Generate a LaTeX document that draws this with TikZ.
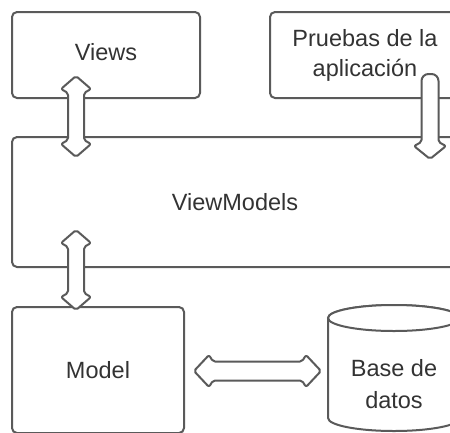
\documentclass[tikz,border=0pt]{standalone}
\usepackage{fontspec}
\setmainfont{Liberation Sans}
\usetikzlibrary{calc}

\definecolor{edge}{HTML}{5A5A5A}
\definecolor{ink}{HTML}{333333}

% vertical double block arrow between two tip coordinates
% #1 top tip, #2 bottom tip, #3 half shaft, #4 half head, #5 head length
\newcommand\vdblarrow[5]{%
  \draw[blockarrow] let \p1=(#1), \p2=(#2) in
    (\x1,\y1) -- ({\x1-#4pt},{\y1-#5pt}) -- ({\x1-#3pt},{\y1-#5pt-4pt})
    -- ({\x1-#3pt},{\y2+#5pt+4pt}) -- ({\x1-#4pt},{\y2+#5pt}) -- (\x1,\y2)
    -- ({\x1+#4pt},{\y2+#5pt}) -- ({\x1+#3pt},{\y2+#5pt+4pt})
    -- ({\x1+#3pt},{\y1-#5pt-4pt}) -- ({\x1+#4pt},{\y1-#5pt}) -- cycle;}

% horizontal double block arrow: #1 left tip, #2 right tip
\newcommand\hdblarrow[5]{%
  \draw[blockarrow] let \p1=(#1), \p2=(#2) in
    (\x1,\y1) -- ({\x1+#5pt},{\y1+#4pt}) -- ({\x1+#5pt+4pt},{\y1+#3pt})
    -- ({\x2-#5pt-4pt},{\y1+#3pt}) -- ({\x2-#5pt},{\y1+#4pt}) -- (\x2,\y1)
    -- ({\x2-#5pt},{\y1-#4pt}) -- ({\x2-#5pt-4pt},{\y1-#3pt})
    -- ({\x1+#5pt+4pt},{\y1-#3pt}) -- ({\x1+#5pt},{\y1-#4pt}) -- cycle;}

% single downward block arrow with a rounded tail: #1 tail, #2 tip
\newcommand\downarrowblock[5]{%
  \draw[blockarrow] let \p1=(#1), \p2=(#2) in
    [rounded corners=7pt] ({\x1-#3pt},{\y2+#5pt+4pt}) -- ({\x1-#3pt},\y1)
    -- ({\x1+#3pt},\y1) [rounded corners=2pt] -- ({\x1+#3pt},{\y2+#5pt+4pt})
    -- ({\x1+#4pt},{\y2+#5pt}) -- (\x1,\y2) -- ({\x1-#4pt},{\y2+#5pt}) -- cycle;}

\tikzset{
  box/.style={draw=edge, line width=2pt, rounded corners=5pt, fill=white,
    text=ink, font=\fontsize{23.5}{30}\selectfont, align=center, inner sep=0pt},
  label/.style={text=ink, font=\fontsize{23.5}{32}\selectfont, align=center, inner sep=0pt},
  blockarrow/.style={draw=edge, line width=2pt, fill=white, rounded corners=2pt,
    line join=round},
  dbline/.style={draw=edge, line width=2pt, fill=white}
}

\begin{document}
\begin{tikzpicture}[x=1pt, y=-1pt]
  \clip (0,0) rectangle (450,432);
  \fill[white] (0,0) rectangle (450,432);

  % layers
  \node[box, minimum width=188pt, minimum height=86pt] (views) at (106,55) {};
  \node[text=ink, font=\fontsize{23.5}{30}\selectfont, inner sep=0pt] (viewstext)
    at (106,52) {Views};
  \node[box, minimum width=190pt, minimum height=86pt] (tests) at (365,55)
    {Pruebas de la\\aplicación};
  \node[box, minimum width=446pt, minimum height=130pt] (vm) at (235,202) {ViewModels};
  \node[box, minimum width=172pt, minimum height=126pt] (model) at (98,370) {Model};

  % database cylinder
  \path[dbline] (328,318) -- (328,418)
    arc[start angle=180, end angle=360, x radius=66pt, y radius=13pt]
    -- (460,318) arc[start angle=0, end angle=180, x radius=66pt, y radius=13pt];
  \draw[dbline] (394,318) ellipse [x radius=66pt, y radius=13pt];
  \node[label] (db) at (394,384) {Base de\\datos};

  % connector end points
  \coordinate (v1) at ($(views.south west)+(65,-23)$);
  \coordinate (v2) at ($(vm.north west)+(65,21)$);
  \coordinate (m1) at ($(vm.south west)+(65,-38)$);
  \coordinate (m2) at ($(model.north west)+(65,4)$);
  \coordinate (t1) at ($(tests.south west)+(161,-25)$);
  \coordinate (t2) at ($(vm.north west)+(419,23)$);
  \coordinate (h1) at ($(model.east)+(9,1)$);
  \coordinate (h2) at ($(h1)+(127,0)$);

  % block arrows
  \vdblarrow{v1}{v2}{8}{15}{13}
  \vdblarrow{m1}{m2}{8}{15}{13}
  \hdblarrow{h1}{h2}{9.5}{16}{15}
  \downarrowblock{t1}{t2}{8.5}{16}{13}
\end{tikzpicture}
\end{document}
